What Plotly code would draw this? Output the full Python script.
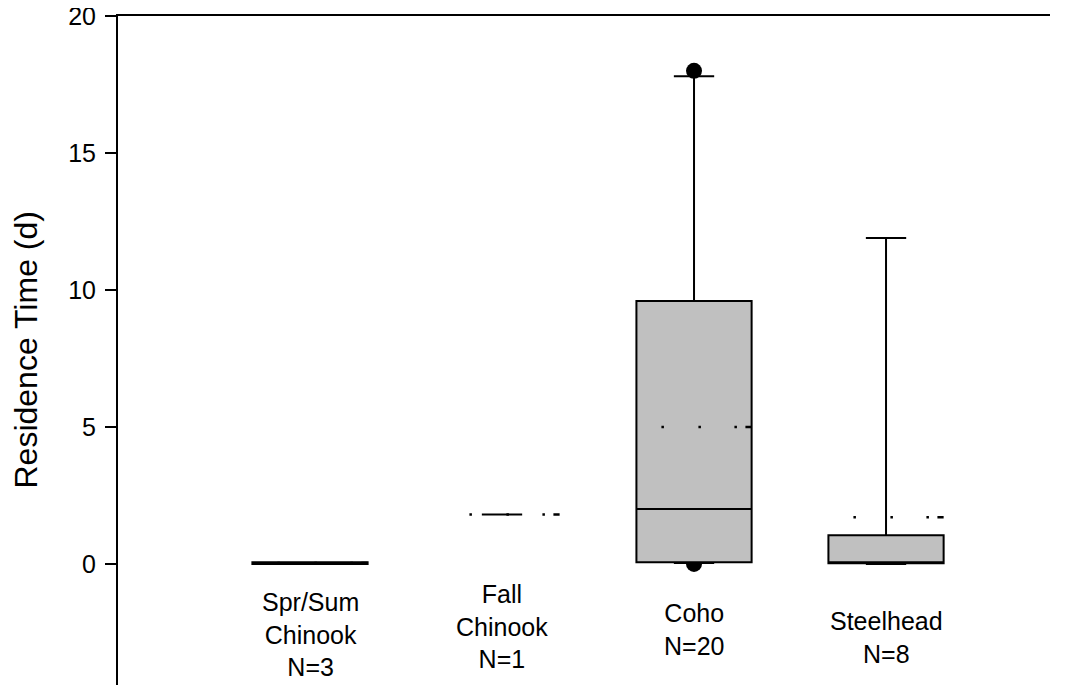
import plotly.graph_objects as go

# ---- data ----
categories = ["Spr/Sum<br>Chinook<br>N=3", "Fall<br>Chinook<br>N=1", "Coho<br>N=20", "Steelhead<br>N=8"]
positions = [0, 1, 2, 3]
q1 = [0.0, 1.8, 0.06, 0.02]
median = [0.03, 1.8, 2.0, 0.02]
q3 = [0.06, 1.8, 9.6, 1.05]
lowerfence = [0.0, 1.8, 0.03, 0.0]
upperfence = [0.06, 1.8, 17.8, 11.9]
means = [0.03, 1.8, 5.0, 1.7]
has_box = [True, False, True, True]
outlier_x = [2, 2]
outlier_y = [0.0, 18.0]
outlier_below_box = [True, False]
label_y = [-2.56, -2.27, -2.38, -2.67]
y_ticks = [0, 5, 10, 15, 20]

FONT = "Liberation Sans, Arial, sans-serif"
BOX_W = 0.6
WHISK = 0.35
FILL = "#c0c0c0"
MEAN_DASH = "0px,25px,2.5px,34.5px,2.5px,33.5px,2.5px,8.5px,7px"
DOT_R = 8

fig = go.Figure()

for i, p in enumerate(positions):
    if has_box[i]:
        fig.add_trace(go.Box(x=[p], q1=[q1[i]], median=[median[i]], q3=[q3[i]],
                             lowerfence=[lowerfence[i]], upperfence=[upperfence[i]],
                             boxpoints=False, width=BOX_W, whiskerwidth=WHISK,
                             fillcolor=FILL, line=dict(color="black", width=2),
                             showlegend=False, hoverinfo="skip"))
    else:
        # degenerate case (single value): only the whisker cap is drawn
        fig.add_trace(go.Scatter(x=[p - BOX_W * WHISK / 2, p + BOX_W * WHISK / 2],
                                 y=[upperfence[i], upperfence[i]], mode="lines",
                                 line=dict(color="black", width=2),
                                 showlegend=False, hoverinfo="skip"))

# mean lines (dotted)
for i, p in enumerate(positions):
    fig.add_trace(go.Scatter(x=[p - BOX_W / 2, p + BOX_W / 2], y=[means[i], means[i]],
                             mode="lines", line=dict(color="black", width=2.5, dash=MEAN_DASH),
                             showlegend=False, hoverinfo="skip"))

# outliers
for ox, oy, below in zip(outlier_x, outlier_y, outlier_below_box):
    if below:
        # sits underneath the box, so drawn in the layer below the traces
        fig.add_shape(type="circle", xref="x", yref="y", xsizemode="pixel", ysizemode="pixel",
                      xanchor=ox, yanchor=oy, x0=-DOT_R, x1=DOT_R, y0=-DOT_R, y1=DOT_R,
                      fillcolor="black", line=dict(width=0), layer="below")
    else:
        fig.add_trace(go.Scatter(x=[ox], y=[oy], mode="markers",
                                 marker=dict(color="black", size=2 * DOT_R),
                                 showlegend=False, hoverinfo="skip"))

# category labels
for i, p in enumerate(positions):
    fig.add_annotation(x=p, y=label_y[i], xref="x", yref="y", text=categories[i],
                       showarrow=False, font=dict(family=FONT, size=25, color="black"),
                       xanchor="center", yanchor="middle", align="center")

# y axis title
fig.add_annotation(x=0, y=0.5, xref="paper", yref="paper", text="Residence Time (d)",
                   textangle=-90, showarrow=False, xanchor="center", yanchor="middle",
                   xshift=-93, font=dict(family=FONT, size=32, color="black"))

fig.update_layout(
    width=1058, height=677,
    margin=dict(l=110, r=16, t=8, b=0, autoexpand=False),
    paper_bgcolor="white", plot_bgcolor="white",
    showlegend=False,
    font=dict(family=FONT, color="black"),
    xaxis=dict(range=[-1.0, 3.854], side="top", showline=True, linecolor="black", linewidth=2,
               showticklabels=False, ticks="", showgrid=False, zeroline=False, automargin=False),
    yaxis=dict(range=[-4.42, 20], tickvals=y_ticks, ticks="outside", ticklen=11, tickwidth=2,
               tickcolor="black", showline=True, linecolor="black", linewidth=2,
               showgrid=False, zeroline=False, ticklabelstandoff=4, automargin=False,
               ticklabeloverflow="allow",
               tickfont=dict(family=FONT, size=25, color="black")),
)

fig.write_html("out.html")
